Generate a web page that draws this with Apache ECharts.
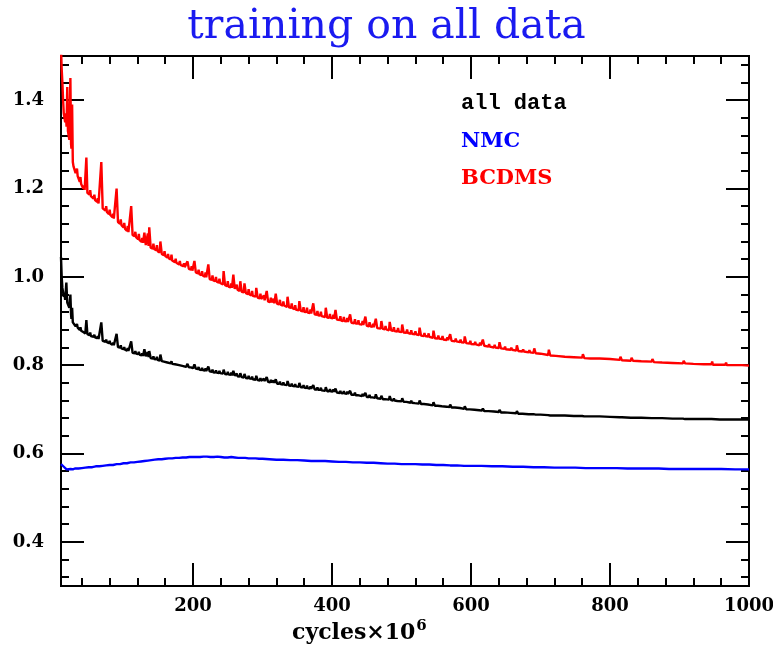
<!DOCTYPE html>
<html><head><meta charset="utf-8">
<script src="https://cdn.jsdelivr.net/npm/echarts@6/dist/echarts.min.js"></script>
<style>html,body{margin:0;padding:0;background:#fff}#c{width:773px;height:651px}</style>
</head><body><div id="c"></div>
<script>
// ---- tick values ----
const xMajor = [200, 400, 600, 800, 1000];
const xMinor = [40, 80, 120, 160, 240, 280, 320, 360, 440, 480, 520, 560, 640, 680, 720, 760, 840, 880, 920, 960];
const yMajor = [0.4, 0.6, 0.8, 1.0, 1.2, 1.4];
const yMinor = [0.32, 0.36, 0.44, 0.48, 0.52, 0.56, 0.64, 0.68, 0.72, 0.76, 0.84, 0.88, 0.92, 0.96, 1.04, 1.08, 1.12, 1.16, 1.24, 1.28, 1.32, 1.36, 1.44, 1.48];

// ---- series data [cycles (x10^6), value] ----
const bcdms = [[10,1.52],[11,1.47],[12,1.44],[13,1.40],[14,1.37],[15,1.36],[16,1.35],[17,1.37],[18,1.34],[19,1.43],[20,1.33],[21,1.32],[22,1.31],[23.5,1.45],[24.5,1.30],[25,1.29],[26,1.39],[27,1.26],
[28,1.25],[31,1.235],[33,1.245],[34,1.228],[37,1.215],[38,1.226],[39,1.21],[42,1.2],[43,1.207],[44,1.197],[45,1.195],[46.5,1.27],[48,1.19],[51,1.186],[52,1.196],[53,1.183],[57,1.177],[58,1.186],[59,1.174],[62,1.17],[63,1.178],[64,1.166],[66,1.163],[68,1.26],[70,1.155],[74,1.15],[75,1.16],[76,1.147],[79,1.142],[80,1.152],[81,1.14],[84,1.135],[85,1.143],[86,1.132],[88,1.128],[90,1.20],[92,1.124],[95,1.12],[96,1.13],[97,1.117],[100,1.112],[101,1.122],[102,1.109],[105,1.104],[106,1.115],[107,1.101],[109,1.098],[111,1.16],[113,1.095],[116,1.092],[117,1.102],[118,1.09],[121,1.085],[122,1.097],[123,1.083],[126,1.079],[127,1.088],[128,1.077],[130,1.10],[132,1.072],[134,1.072],[135,1.098],[136,1.07],[137,1.112],[139,1.066],
[142,1.064],[143,1.075],[144,1.063],[147,1.06],[148,1.072],[149,1.058],[152,1.055],[153,1.08],[155,1.052],[158,1.049],[159,1.058],[160,1.047],[163,1.044],[164,1.052],[165,1.042],[168,1.039],[169,1.05],[170,1.037],[174,1.033],[175,1.041],[176,1.032],[180,1.028],[181,1.036],[182,1.027],[186,1.024],[187,1.031],[188,1.022],[190,1.02],[192,1.035],[194,1.018],[197,1.016],[198,1.024],[199,1.014],
[200,1.013],[202,1.036],[204,1.01],[207,1.008],[208,1.016],[209,1.006],[212,1.004],[213,1.013],[214,1.003],[217,1.0],[218,1.01],[219,0.999],[221,0.997],[222,1.028],[224,0.995],[227,0.993],[228,1.003],[229,0.992],[232,0.99],[233,1.0],[234,0.989],[237,0.987],[238,0.996],[239,0.986],[243,0.983],[244,1.013],[246,0.981],[249,0.979],[250,0.99],[251,0.978],[254,0.976],[255,0.985],[256,0.975],[257,0.975],[258,1.005],[260,0.973],[262,0.972],[263,0.982],[264,0.971],[267,0.968],[268,0.99],[270,0.966],[273,0.965],[274,0.985],[276,0.963],[279,0.961],[280,0.972],[281,0.96],[284,0.958],[285,0.968],[286,0.957],[290,0.955],[291,0.975],[293,0.953],[296,0.951],[297,0.962],[298,0.95],
[300,0.948],[302,0.958],[303,0.947],[305,0.945],[306,0.968],[308,0.944],[311,0.943],[312,0.953],[313,0.942],[315,0.941],[316,0.95],[317,0.94],[318,0.94],[319,0.962],[321,0.939],[324,0.938],[325,0.948],[326,0.937],[329,0.935],[330,0.944],[331,0.935],[335,0.932],[336,0.955],[338,0.931],[341,0.93],[342,0.94],[343,0.929],[346,0.927],[347,0.936],[348,0.926],[352,0.924],[353,0.945],[355,0.923],[358,0.922],[359,0.931],[360,0.921],[363,0.92],[364,0.93],[365,0.919],[368,0.918],[369,0.926],[370,0.917],[372,0.916],[373,0.94],[375,0.915],[378,0.914],[379,0.923],[380,0.913],[383,0.912],[384,0.921],[385,0.911],[390,0.909],[391,0.93],[393,0.908],[396,0.907],[397,0.916],[398,0.907],
[401,0.906],[402,0.914],[403,0.905],[404,0.904],[405,0.925],[407,0.903],[411,0.902],[412,0.911],[413,0.901],[416,0.9],[417,0.909],[418,0.9],[421,0.899],[422,0.907],[423,0.898],[425,0.897],[426,0.915],[428,0.896],[432,0.895],[433,0.904],[434,0.894],[437,0.894],[438,0.902],[439,0.893],[443,0.892],[444,0.9],[445,0.891],[447,0.89],[448,0.91],[450,0.889],[453,0.888],[454,0.897],[455,0.888],[458,0.887],[459,0.894],[460,0.886],[462,0.885],[463,0.905],[465,0.884],[470,0.883],[471,0.9],[473,0.882],[476,0.881],[477,0.889],[478,0.881],[482,0.879],[483,0.898],[485,0.879],[488,0.878],[489,0.886],[490,0.877],[494,0.876],[495,0.884],[496,0.876],
[500,0.875],[501,0.892],[503,0.874],[507,0.873],[508,0.881],[509,0.873],[513,0.871],[514,0.879],[515,0.871],[519,0.87],[520,0.877],[521,0.87],[525,0.868],[526,0.885],[528,0.867],[532,0.866],[533,0.873],[534,0.866],[538,0.865],[539,0.872],[540,0.864],[545,0.862],[546,0.878],[548,0.861],[552,0.86],[553,0.867],[554,0.86],[558,0.859],[559,0.866],[560,0.858],[565,0.857],[566,0.863],[567,0.857],[569,0.856],[570,0.87],[572,0.855],[577,0.854],[578,0.86],[579,0.854],[584,0.852],[585,0.858],[586,0.852],[590,0.851],[591,0.865],[593,0.85],[598,0.849],[599,0.855],
[600,0.848],[605,0.847],[606,0.853],[607,0.847],[612,0.845],[613,0.851],[614,0.845],[616,0.844],[617,0.858],[619,0.844],[625,0.842],[626,0.848],[627,0.842],[633,0.84],[634,0.846],[635,0.84],[640,0.839],[641,0.852],[643,0.838],[648,0.837],[649,0.842],[650,0.836],[657,0.835],[658,0.84],[659,0.835],[665,0.833],[666,0.845],[668,0.832],[674,0.831],[675,0.836],[676,0.831],[683,0.829],[684,0.834],[685,0.829],[690,0.828],[691,0.838],[693,0.827],
[700,0.826],[701,0.83],[702,0.826],[711,0.823],[712,0.835],[714,0.822],[722,0.821],[723,0.825],[724,0.821],[735,0.819],[736,0.823],[737,0.819],[748,0.818],[749,0.821],[750,0.818],[760,0.817],[761,0.825],[763,0.816],[772,0.815],[773,0.819],[774,0.815],[785,0.815],[786,0.818],[787,0.814],
[800,0.814],[801,0.817],[802,0.813],[814,0.812],[815,0.819],[817,0.811],[830,0.81],[831,0.817],[833,0.81],[845,0.809],[846,0.812],[847,0.809],[860,0.808],[861,0.814],[863,0.807],[875,0.806],[876,0.809],[877,0.806],[890,0.805],[891,0.808],[892,0.805],[905,0.804],[906,0.81],[908,0.804],[920,0.803],[921,0.806],[922,0.803],[935,0.802],[936,0.805],[937,0.802],[946,0.802],[947,0.808],[948,0.801],[958,0.801],[959,0.804],[960,0.801],[966,0.801],[967,0.806],[968,0.8],[980,0.8],[981,0.803],[982,0.8],[990,0.8],[991,0.802],[992,0.799],[1000,0.799]];

const allData = [[10,1.045],[11,1.0],[12,0.975],[13,0.965],[14,0.955],[15,0.96],[16,0.948],[17.7,0.987],[19,0.942],[21,0.94],[22,0.93],[23.5,0.96],[24.5,0.915],[25,0.905],[26,0.93],[27,0.897],
[28,0.894],[31,0.888],[33,0.893],[34,0.885],[37,0.88],[38,0.886],[39,0.878],[42,0.875],[43,0.879],[44,0.873],[45,0.872],[46.5,0.902],[48,0.87],[51,0.868],[52,0.874],[53,0.866],[57,0.864],[58,0.869],[59,0.863],[62,0.861],[63,0.866],[64,0.859],[66,0.858],[68,0.897],[70,0.855],[74,0.853],[75,0.858],[76,0.852],[79,0.85],[80,0.855],[81,0.849],[84,0.846],[85,0.851],[86,0.845],[88,0.843],[90,0.871],[92,0.841],[95,0.84],[96,0.845],[97,0.838],[100,0.836],[101,0.841],[102,0.835],[105,0.833],[106,0.839],[107,0.832],[109,0.83],[111,0.854],[113,0.828],[116,0.827],[117,0.832],[118,0.826],[121,0.825],[122,0.83],[123,0.824],[126,0.822],[127,0.827],[128,0.821],[130,0.836],[132,0.82],[134,0.819],[135,0.83],[136,0.818],[137,0.832],[139,0.816],
[142,0.815],[143,0.82],[144,0.814],[147,0.813],[148,0.819],[149,0.812],[152,0.81],[153,0.824],[155,0.809],[158,0.808],[159,0.812],[160,0.807],[163,0.806],[164,0.81],[165,0.805],[168,0.804],[169,0.809],[170,0.803],[174,0.802],[175,0.806],[176,0.801],[180,0.8],[181,0.804],[182,0.799],[186,0.798],[187,0.801],[188,0.797],[190,0.796],[192,0.803],[194,0.795],[197,0.795],[198,0.798],[199,0.794],
[200,0.793],[202,0.802],[204,0.792],[207,0.791],[208,0.796],[209,0.79],[212,0.789],[213,0.794],[214,0.789],[217,0.788],[218,0.793],[219,0.787],[221,0.787],[222,0.797],[224,0.786],[227,0.785],[228,0.79],[229,0.784],[232,0.783],[233,0.788],[234,0.783],[237,0.782],[238,0.787],[239,0.782],[243,0.781],[244,0.79],[246,0.78],[249,0.779],[250,0.785],[251,0.779],[254,0.778],[255,0.783],[256,0.777],[257,0.777],[258,0.787],[260,0.776],[262,0.775],[263,0.781],[264,0.775],[267,0.774],[268,0.782],[270,0.773],[273,0.772],[274,0.78],[276,0.771],[279,0.77],[280,0.776],[281,0.77],[284,0.769],[285,0.774],[286,0.768],[290,0.767],[291,0.776],[293,0.766],[296,0.765],[297,0.771],[298,0.765],
[300,0.764],[302,0.769],[303,0.764],[305,0.763],[306,0.773],[308,0.762],[311,0.761],[312,0.767],[313,0.761],[315,0.76],[316,0.765],[317,0.76],[318,0.759],[319,0.768],[321,0.758],[324,0.758],[325,0.763],[326,0.757],[329,0.756],[330,0.761],[331,0.756],[335,0.755],[336,0.764],[338,0.754],[341,0.753],[342,0.758],[343,0.753],[346,0.752],[347,0.757],[348,0.752],[352,0.751],[353,0.76],[355,0.75],[358,0.75],[359,0.755],[360,0.749],[363,0.748],[364,0.754],[365,0.748],[368,0.747],[369,0.752],[370,0.747],[372,0.746],[373,0.755],[375,0.745],[378,0.745],[379,0.75],[380,0.744],[383,0.744],[384,0.749],[385,0.743],[390,0.742],[391,0.75],[393,0.741],[396,0.741],[397,0.746],[398,0.741],
[401,0.74],[402,0.745],[403,0.74],[404,0.739],[405,0.747],[407,0.738],[411,0.737],[412,0.742],[413,0.737],[416,0.736],[417,0.741],[418,0.736],[421,0.735],[422,0.74],[423,0.735],[425,0.734],[426,0.742],[428,0.733],[432,0.733],[433,0.738],[434,0.732],[437,0.732],[438,0.736],[439,0.731],[443,0.73],[444,0.735],[445,0.73],[447,0.729],[448,0.737],[450,0.728],[453,0.728],[454,0.733],[455,0.727],[458,0.727],[459,0.731],[460,0.726],[462,0.726],[463,0.734],[465,0.725],[470,0.724],[471,0.731],[473,0.723],[476,0.723],[477,0.727],[478,0.722],[482,0.722],[483,0.73],[485,0.721],[488,0.72],[489,0.725],[490,0.72],[494,0.719],[495,0.723],[496,0.719],
[500,0.718],[501,0.725],[503,0.717],[507,0.717],[508,0.721],[509,0.716],[513,0.715],[514,0.72],[515,0.715],[519,0.714],[520,0.718],[521,0.714],[525,0.713],[526,0.72],[528,0.712],[532,0.712],[533,0.716],[534,0.711],[538,0.711],[539,0.715],[540,0.71],[545,0.709],[546,0.716],[548,0.708],[552,0.708],[553,0.712],[554,0.707],[558,0.707],[559,0.711],[560,0.706],[565,0.706],[566,0.709],[567,0.705],[569,0.705],[570,0.711],[572,0.704],[577,0.704],[578,0.707],[579,0.703],[584,0.703],[585,0.706],[586,0.702],[590,0.701],[591,0.707],[593,0.7],[598,0.7],[599,0.703],
[600,0.699],[605,0.699],[606,0.702],[607,0.698],[612,0.698],[613,0.701],[614,0.697],[616,0.697],[617,0.702],[619,0.696],[625,0.696],[626,0.699],[627,0.695],[633,0.695],[634,0.698],[635,0.694],[640,0.694],[641,0.699],[643,0.693],[648,0.693],[649,0.696],[650,0.692],[657,0.692],[658,0.695],[659,0.691],[665,0.691],[666,0.696],[668,0.69],[674,0.69],[675,0.693],[676,0.689],[683,0.689],[684,0.692],[685,0.689],[690,0.689],[691,0.693],[693,0.688],
[700,0.688],[701,0.69],[702,0.687],[711,0.687],[712,0.691],[714,0.686],[722,0.686],[723,0.688],[724,0.686],[735,0.686],[736,0.688],[737,0.685],[748,0.685],[749,0.687],[750,0.685],[760,0.685],[761,0.688],[763,0.684],[772,0.684],[773,0.686],[774,0.684],[785,0.684],[786,0.686],[787,0.683],
[800,0.683],[801,0.685],[802,0.683],[814,0.682],[815,0.686],[817,0.682],[830,0.681],[831,0.684],[833,0.681],[845,0.681],[846,0.683],[847,0.68],[860,0.68],[861,0.683],[863,0.68],[875,0.68],[876,0.682],[877,0.679],[890,0.679],[891,0.681],[892,0.679],[905,0.679],[906,0.682],[908,0.678],[920,0.678],[921,0.68],[922,0.678],[935,0.678],[936,0.68],[937,0.678],[946,0.678],[947,0.681],[948,0.677],[958,0.677],[959,0.679],[960,0.677],[966,0.677],[967,0.679],[968,0.677],[980,0.677],[981,0.679],[982,0.677],[990,0.677],[991,0.678],[992,0.676],[1000,0.677]];

const nmc = [[10,0.576],[11,0.575],[12,0.574],[14,0.57],[16,0.566],[18,0.564],[20,0.563],[24,0.565],[27,0.564],[30,0.566],[35,0.566],[40,0.567],[45,0.568],[50,0.569],[55,0.569],[60,0.571],[65,0.571],[70,0.572],[75,0.573],[80,0.574],[85,0.574],[90,0.576],[95,0.576],[100,0.578],[105,0.578],[110,0.58],[115,0.58],[120,0.581],[125,0.582],[130,0.583],[135,0.584],[140,0.585],[145,0.586],[150,0.587],[155,0.587],[160,0.588],[165,0.589],[170,0.589],[175,0.59],[180,0.59],[185,0.591],[190,0.591],[195,0.592],[200,0.592],[205,0.592],[210,0.592],[215,0.593],[220,0.593],[225,0.592],[230,0.592],[235,0.593],[240,0.592],[245,0.591],[250,0.591],[255,0.592],[260,0.591],[265,0.59],[270,0.59],[275,0.59],[280,0.589],[285,0.589],[290,0.589],[295,0.588],[300,0.588],[310,0.587],[320,0.586],[330,0.586],[340,0.585],[350,0.585],[360,0.584],[370,0.583],[380,0.583],[390,0.583],[400,0.582],[410,0.581],[420,0.581],[430,0.58],[440,0.58],[450,0.579],[460,0.579],[470,0.578],[480,0.577],[490,0.577],[500,0.576],[510,0.576],[520,0.576],[530,0.575],[540,0.575],[550,0.574],[560,0.574],[570,0.573],[580,0.573],[590,0.572],[600,0.572],[615,0.572],[630,0.571],[645,0.571],[660,0.57],[675,0.57],[690,0.569],[705,0.569],[720,0.568],[735,0.568],[750,0.568],[765,0.567],[780,0.567],[795,0.567],[810,0.567],[825,0.566],[840,0.566],[855,0.566],[870,0.566],[885,0.565],[900,0.565],[915,0.565],[930,0.565],[945,0.565],[960,0.565],[980,0.564],[1000,0.564]];

const seriesNames = ['all data', 'NMC', 'BCDMS'];
const seriesColors = ['#000000', '#0000ff', '#ff0000'];

const chart = echarts.init(document.getElementById('c'), null, {renderer: 'canvas'});
const labelFont = {fontFamily: 'DejaVu Serif', fontWeight: 'bold', fontSize: 18, color: '#000'};
const axLine = {show: true, onZero: false, lineStyle: {color: '#000', width: 2}};

function xAx(pos, vals, len, labels) {
  return {
    type: 'value', min: 10, max: 1000, position: pos,
    axisLine: axLine,
    axisTick: {show: true, inside: true, length: len, customValues: vals, lineStyle: {color: '#000', width: 2}},
    axisLabel: Object.assign({show: labels, customValues: vals, margin: 11, formatter: v => String(Math.round(v))}, labelFont),
    splitLine: {show: false}
  };
}
function yAx(pos, vals, len, labels) {
  return {
    type: 'value', min: 0.3, max: 1.5, position: pos,
    axisLine: axLine,
    axisTick: {show: true, inside: true, length: len, customValues: vals, lineStyle: {color: '#000', width: 2}},
    axisLabel: Object.assign({show: labels, customValues: vals, margin: 17, formatter: v => v.toFixed(1)}, labelFont),
    splitLine: {show: false}
  };
}

const legendFonts = [
  {fontFamily: 'Liberation Mono', fontWeight: 'bold', fontSize: 22},
  {fontFamily: 'DejaVu Serif', fontWeight: 'bold', fontSize: 21},
  {fontFamily: 'DejaVu Serif', fontWeight: 'bold', fontSize: 21}
];
const legendTops = [92, 131, 168];

const option = {
  animation: false,
  backgroundColor: '#fff',
  grid: {left: 61, top: 56, width: 688, height: 530, containLabel: false, outerBoundsMode: 'none'},
  title: [
    {text: 'training on all data', left: 'center', top: 7, padding: [0, 0, 0, 8],
     textStyle: {fontFamily: 'DejaVu Serif', fontWeight: 'normal', fontSize: 41, color: '#1a1af0'}},
    {text: '{a|cycles×10}{b|6}', left: 292, top: 619, padding: 0,
     textStyle: {rich: {
       a: {fontFamily: 'DejaVu Serif', fontSize: 22, color: '#000'},
       b: {fontFamily: 'DejaVu Serif', fontSize: 15, color: '#000', padding: [0, 0, 14, 1]}
     }}}
  ].concat(seriesNames.map((n, i) => ({
    text: n, left: 461, top: legendTops[i], padding: 0,
    textStyle: Object.assign({color: seriesColors[i]}, legendFonts[i])
  }))),
  xAxis: [xAx('bottom', xMajor, 23, true), xAx('bottom', xMinor, 8, false), xAx('top', xMajor, 23, false), xAx('top', xMinor, 8, false)],
  yAxis: [yAx('left', yMajor, 23, true), yAx('left', yMinor, 8, false), yAx('right', yMajor, 23, false), yAx('right', yMinor, 8, false)],
  series: [
    {name: 'BCDMS', type: 'line', data: bcdms, color: seriesColors[2]},
    {name: 'all data', type: 'line', data: allData, color: seriesColors[0]},
    {name: 'NMC', type: 'line', data: nmc, color: seriesColors[1]}
  ].map(s => Object.assign(s, {xAxisIndex: 0, yAxisIndex: 0, showSymbol: false, symbol: 'none',
     lineStyle: {width: 2.4, color: s.color}, clip: true, silent: true}))
};
chart.setOption(option);
</script></body></html>
